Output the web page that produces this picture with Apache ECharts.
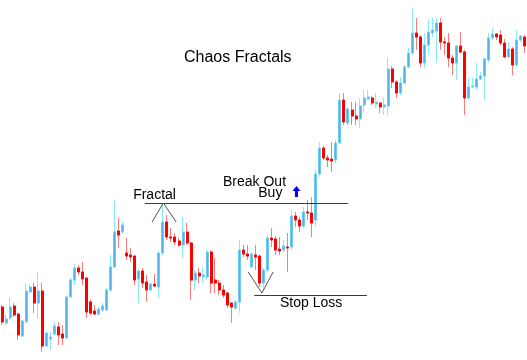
<!DOCTYPE html>
<html><head><meta charset="utf-8">
<script src="https://cdn.jsdelivr.net/npm/echarts@6/dist/echarts.min.js"></script>
<style>html,body{margin:0;padding:0;background:#fff}#c{width:527px;height:360px}</style>
</head><body><div id="c"></div><script>
// price units (no axis shown)
const opens=[53,37,42,54,46,24,38,68,73,57, 69,14,21,26,33,26,22,63,80,92, 88,82,58,49,46,50,50,70,93,129,
128,107,105,104,81,89,78,70,76,73, 107,138,123,123,119,115,128,117,80,87, 83,83,108,80,77,70,67,57,52,58,
110,106,93,105,104,77,90,122,121,111, 110,113,113,144,140,134,148,147,140,186, 212,202,201,200,217,260,237,250,244,241,
255,261,262,256,257,253,254,291,278,267, 277,293,307,327,323,297,315,327,329,337, 318,317,302,297,314,308,262,273,273,281,
284,300,322,326,325,317,303,311,295,320, 323];
const closes=[38,41,53,45,25,39,69,73,57,69, 14,27,23,34,25,22,63,80,92,88, 81,48,47,46,51,54,70,93,128,125,
135,104,103,80,89,77,70,76,74,107, 138,123,122,118,115,128,117,80,87,84, 85,108,77,77,70,65,55,53,58,110,
106,104,106,103,77,90,122,120,110,109, 114,112,144,140,134,148,147,137,186,212, 202,200,199,217,260,238,251,244,241,254,
262,263,257,258,253,255,291,278,267,277, 293,307,327,323,297,315,328,330,337,318, 317,302,297,314,308,262,273,274,281,284,
301,322,326,323,317,303,311,295,320,324, 314];
const lows=[35,35,40,43,20,23,38,67,47,42, 8,13,10,25,15,15,22,62,75,85, 75,42,45,45,45,48,49,68,92,112,
127,100,98,75,57,72,58,69,73,62, 105,120,118,115,113,102,115,60,70,77, 77,80,67,67,65,62,52,37,50,47,
103,100,92,90,73,70,88,113,105,105, 108,88,110,133,128,132,140,123,133,183, 200,193,188,197,216,235,235,235,235,232,
247,260,255,252,247,245,245,272,262,265, 277,292,305,310,293,292,305,323,297,310, 305,293,285,280,307,245,260,273,270,280,
260,298,320,320,315,302,302,285,293,318, 307];
const highs=[55,45,62,57,47,40,77,75,77,88, 77,28,28,38,38,35,65,82,96,95, 98,83,60,55,53,57,72,105,160,142,
138,122,112,105,90,92,85,77,86,108, 155,145,132,127,122,143,137,118,90,92, 93,110,110,102,80,75,68,57,60,120,
115,115,108,115,105,92,125,132,124,123, 120,127,150,148,143,153,160,163,190,218, 214,205,218,220,267,267,253,258,258,262,
270,270,264,267,257,262,302,294,280,283, 295,312,352,342,325,327,340,342,342,342, 323,327,305,315,328,310,282,282,297,288,
302,327,332,327,330,321,318,313,330,325, 325];
const categories=opens.map((_,i)=>'Bar '+(i+1));

// annotations: [bar index, price]
const fractalLevel=157, fractalSpan=[35.5,86];
const fractalCaret=[[37.3,138],[40.1,157],[43.3,138]];
const stopLevel=65, stopSpan=[62.7,90.7];
const stopV=[[61.2,88],[64.6,67],[67.4,88]];
const arrowBar=73.2, arrowPrice=[163,174];
const labels=[
  {text:'Fractal',at:[32.6,165],align:'left'},
  {text:'Break Out',at:[70.6,178],align:'right'},
  {text:'Buy',at:[69.7,166.5],align:'right'},
  {text:'Stop Loss',at:[69.1,56.5],align:'left'}
];

const candles=opens.map((o,i)=>[o,closes[i],lows[i],highs[i]]);
const bodies=opens.map((o,i)=>[o,closes[i],Math.min(o,closes[i]),Math.max(o,closes[i])]);

const chart=echarts.init(document.getElementById('c'),null,{renderer:'canvas'});
const FONT="'Liberation Sans', Arial, sans-serif";
chart.setOption({
  animation:false,
  backgroundColor:'#ffffff',
  title:{text:'Chaos Fractals',top:50,left:184,padding:0,textStyle:{fontSize:16,fontWeight:'normal',color:'#000',fontFamily:FONT}},
  grid:{left:0,right:0,top:0,bottom:0},
  xAxis:{type:'category',data:categories,show:false,boundaryGap:true},
  yAxis:{type:'value',min:0,max:360,show:false},
  series:[
    {type:'candlestick',data:candles,barWidth:2,
     itemStyle:{color:'#4fb2ea',color0:'#ff0000',borderColor:'#86ecfa',borderColor0:'#ff7a7a',borderWidth:1}},
    {type:'candlestick',data:bodies,barWidth:2.5,
     itemStyle:{color:'#4fb2ea',color0:'#ff0000',borderColor:'#6cccf2',borderColor0:'#ff0000',borderWidth:1}}
  ]
});

const x0=chart.convertToPixel({xAxisIndex:0},0), x1=chart.convertToPixel({xAxisIndex:0},1);
const px=i=>x0+(x1-x0)*i;
const py=v=>chart.convertToPixel({yAxisIndex:0},v);
const snap=v=>Math.round(v)+0.5;
const els=[];
els.push({type:'polyline',shape:{points:[[px(fractalSpan[0]),snap(py(fractalLevel))],[px(fractalSpan[1]),snap(py(fractalLevel))]]},style:{stroke:'#3a3a3a',lineWidth:1,fill:null},z:10});
els.push({type:'polyline',shape:{points:fractalCaret.map(p=>[px(p[0]),py(p[1])])},style:{stroke:'#555',lineWidth:1,fill:null},z:10});
els.push({type:'polyline',shape:{points:[[px(stopSpan[0]),snap(py(stopLevel))],[px(stopSpan[1]),snap(py(stopLevel))]]},style:{stroke:'#3a3a3a',lineWidth:1,fill:null},z:10});
els.push({type:'polyline',shape:{points:stopV.map(p=>[px(p[0]),py(p[1])])},style:{stroke:'#555',lineWidth:1,fill:null},z:10});
const ax=px(arrowBar), ab=py(arrowPrice[0]), at=py(arrowPrice[1]), am=at+5;
els.push({type:'polygon',shape:{points:[[ax-1.5,ab],[ax-1.5,am],[ax-4,am],[ax,at],[ax+4,am],[ax+1.5,am],[ax+1.5,ab]]},style:{fill:'#0000ff'},z:10});
labels.forEach(l=>els.push({type:'text',z:10,style:{text:l.text,x:px(l.at[0]),y:py(l.at[1]),font:'14px '+FONT,fill:'#000',textAlign:l.align,textVerticalAlign:'middle'}}));
chart.setOption({graphic:{elements:els}});
</script></body></html>
